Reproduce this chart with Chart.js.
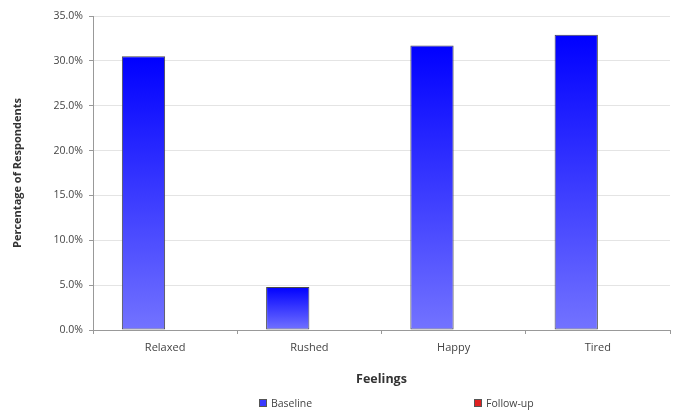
<!DOCTYPE html>
<html>
<head>
<meta charset="utf-8">
<script src="https://cdn.jsdelivr.net/npm/chart.js@4"></script>
<style>
    body { margin: 0; background: #fff; }
    #wrap { position: relative; width: 673px; height: 411px; }
    #legend { position: absolute; top: 396px; left: 0; width: 673px; height: 14px;
              font: 10.5px "Open Sans", sans-serif; color: #444; }
    #legend span.item { position: absolute; top: 0; white-space: nowrap; }
    #legend span.box { display: inline-block; width: 6px; height: 6px; margin-right: 4px;
                       border: 1px solid #555; vertical-align: 0px; }
</style>
</head>
<body>
<div id="wrap">
    <canvas id="chart" width="673" height="411"></canvas>
    <div id="legend"></div>
</div>
<script>
// chart data
const categories = ['Relaxed', 'Rushed', 'Happy', 'Tired'];
const baseline = [30.5, 4.8, 31.7, 32.9];
const followUp = [0, 0, 0, 0];
const seriesNames = ['Baseline', 'Follow-up'];
const yTicks = [0, 5, 10, 15, 20, 25, 30, 35];

// vertical gradient for each bar, dark blue at the top
function barGradient(context) {
    const chart = context.chart;
    if (!chart.chartArea || context.raw === undefined) return '#3a3aff';
    const y = chart.scales.y;
    const top = y.getPixelForValue(context.raw);
    const bottom = y.getPixelForValue(0);
    if (bottom - top < 1) return '#7070ff';
    const g = chart.ctx.createLinearGradient(0, top, 0, bottom);
    g.addColorStop(0, '#0000ff');
    g.addColorStop(1, '#7373ff');
    return g;
}

const ctx = document.getElementById('chart').getContext('2d');
new Chart(ctx, {
    type: 'bar',
    data: {
        labels: categories,
        datasets: [{
            label: seriesNames[0],
            data: baseline,
            backgroundColor: barGradient,
            borderColor: '#4a4a4a',
            borderWidth: 1,
            borderSkipped: false
        }, {
            label: seriesNames[1],
            data: followUp,
            backgroundColor: '#e02020',
            borderColor: '#4a4a4a',
            borderWidth: 1
        }]
    },
    options: {
        responsive: false,
        animation: false,
        layout: { padding: { top: 16, right: 3, bottom: 21, left: 10 } },
        datasets: { bar: { categoryPercentage: 0.6, barPercentage: 1.0 } },
        plugins: {
            legend: { display: false },
            tooltip: { enabled: false }
        },
        scales: {
            y: {
                min: 0,
                max: 35,
                afterBuildTicks: (scale) => { scale.ticks = yTicks.map(v => ({ value: v })); },
                afterFit: (scale) => { scale.width = 83; },
                ticks: {
                    color: '#444',
                    font: { family: 'Open Sans', size: 10.5 },
                    padding: 6,
                    callback: (v) => v.toFixed(1) + '%'
                },
                grid: { color: '#e4e4e4', tickColor: '#999', tickLength: 4 },
                border: { color: '#999' },
                title: {
                    display: true,
                    text: 'Percentage of Respondents',
                    color: '#333',
                    font: { family: 'Open Sans', size: 11, weight: 'bold' },
                    padding: { top: 1, bottom: 2 }
                }
            },
            x: {
                afterFit: (scale) => { scale.height = 60; },
                ticks: {
                    color: '#444',
                    font: { family: 'Open Sans', size: 11 },
                    padding: 7
                },
                grid: { drawOnChartArea: false, color: '#999', tickLength: 4, offset: true },
                border: { color: '#999' },
                title: {
                    display: true,
                    text: 'Feelings',
                    color: '#333',
                    font: { family: 'Open Sans', size: 12.5, weight: 'bold' },
                    padding: { top: 4, bottom: 3 }
                }
            }
        }
    }
});

// html legend under the chart
const legendColors = ['#3a3aff', '#e02020'];
const legendX = [259, 474];
const legend = document.getElementById('legend');
seriesNames.forEach((name, i) => {
    const item = document.createElement('span');
    item.className = 'item';
    item.style.left = legendX[i] + 'px';
    item.innerHTML = `<span class="box" style="background:${legendColors[i]}"></span>${name}`;
    legend.appendChild(item);
});
</script>
</body>
</html>
